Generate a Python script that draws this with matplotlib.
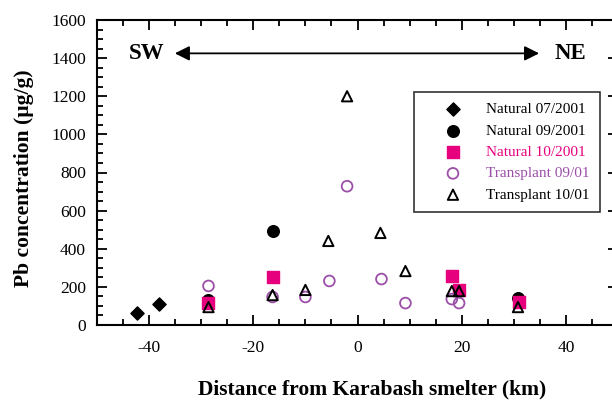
import matplotlib
matplotlib.use('Agg')
import matplotlib.pyplot as plt
from matplotlib.ticker import MultipleLocator

plt.rcParams['font.family'] = ['Liberation Serif', 'DejaVu Serif']
plt.rcParams['axes.unicode_minus'] = False

# Natural 07/2001
nat07_x = [-42.3, -38.1]
nat07_y = [63, 110]
# Natural 09/2001
nat09_x = [-28.6, -16.3, 30.8]
nat09_y = [130, 493, 142]
# Natural 10/2001
nat10_x = [-28.6, -16.3, 18.1, 19.5, 31.0]
nat10_y = [115, 250, 257, 185, 120]
# Transplant 09/01
tr09_x = [-28.6, -16.3, -10.0, -5.4, -2.0, 4.6, 9.2, 18.1, 19.5]
tr09_y = [205, 147, 147, 231, 728, 241, 115, 136, 115]
# Transplant 10/01
tr10_x = [-28.6, -16.3, -10.0, -5.6, -2.0, 4.4, 9.2, 18.1, 19.5, 30.8]
tr10_y = [94, 157, 184, 441, 1200, 483, 283, 178, 178, 94]

pink = '#e6007e'
purple = '#9b4fa8'

fig = plt.figure(figsize=(6.12, 4.0), dpi=100)
ax = fig.add_axes([97 / 612, 75 / 400, 521 / 612, 305 / 400])

ax.scatter(nat07_x, nat07_y, marker='D', s=45, color='black', label='Natural 07/2001', zorder=3)
ax.scatter(nat09_x, nat09_y, marker='o', s=70, color='black', label='Natural 09/2001', zorder=3)
ax.scatter(nat10_x, nat10_y, marker='s', s=70, color=pink, label='Natural 10/2001', zorder=4)
ax.scatter(tr09_x, tr09_y, marker='o', s=60, facecolors='none', edgecolors=purple,
           linewidths=1.3, label='Transplant 09/01', zorder=5)
ax.scatter(tr10_x, tr10_y, marker='^', s=55, facecolors='none', edgecolors='black',
           linewidths=1.4, label='Transplant 10/01', zorder=6)

ax.set_xlim(-50, 50)
ax.set_ylim(0, 1600)
ax.xaxis.set_major_locator(MultipleLocator(20))
ax.xaxis.set_minor_locator(MultipleLocator(5))
ax.yaxis.set_major_locator(MultipleLocator(200))
ax.yaxis.set_minor_locator(MultipleLocator(50))
ax.tick_params(which='both', direction='in', top=True, right=True, width=1.3, labelsize=12.5)
ax.tick_params(which='major', length=7, pad=8)
ax.tick_params(axis='x', which='major', pad=11)
ax.tick_params(which='minor', length=4)
for s in ax.spines.values():
    s.set_linewidth(1.5)

ax.set_xlabel('Distance from Karabash smelter (km)', fontsize=15.5, fontweight='bold', labelpad=17)
ax.set_ylabel('Pb concentration (µg/g)', fontsize=15.5, fontweight='bold', labelpad=12)
ax.xaxis.label.set_x(0.528)
ax.yaxis.label.set_y(0.48)

# direction arrow
ax.annotate('', xy=(-35.6, 1425), xytext=(35.4, 1425),
            arrowprops=dict(arrowstyle='<|-|>', color='black', lw=1.3, mutation_scale=22))
ax.text(-40.5, 1425, 'SW', fontsize=16.5, fontweight='bold', ha='center', va='center')
ax.text(40.8, 1425, 'NE', fontsize=16.5, fontweight='bold', ha='center', va='center')

leg = ax.legend(loc='upper left', bbox_to_anchor=((414 - 97) / 521, (325 - 92) / 305),
                borderaxespad=0, fontsize=11, frameon=True, fancybox=False, edgecolor='black',
                handlelength=3.7, handletextpad=0.3, borderpad=0.7, labelspacing=0.5)
leg.get_frame().set_linewidth(1.2)
for txt, c in zip(leg.get_texts(), ['black', 'black', pink, purple, 'black']):
    txt.set_color(c)

fig.savefig('out.png', dpi=100)
